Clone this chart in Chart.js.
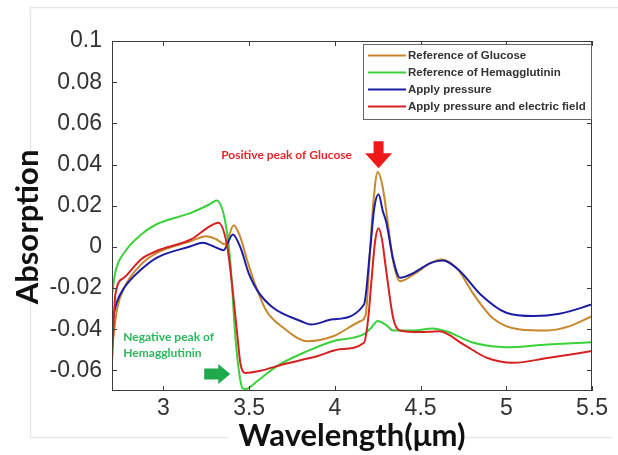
<!DOCTYPE html>
<html>
<head>
<meta charset="utf-8">
<script src="https://cdn.jsdelivr.net/npm/chart.js@4.4.1/dist/chart.umd.min.js"></script>
<style>
    body { margin: 0; background: #fff; }
    canvas { display: block; }
</style>
</head>
<body>
<canvas id="absorptionChart" width="618" height="455"></canvas>
<script>
// axis range and tick labels
const xMin = 2.7, xMax = 5.5;
const yMin = -0.07, yMax = 0.1;
const xTicks = [3, 3.5, 4, 4.5, 5, 5.5];
const yTicks = [-0.06, -0.04, -0.02, 0, 0.02, 0.04, 0.06, 0.08, 0.1];

const seriesNames = ['Reference of Glucose', 'Reference of Hemagglutinin', 'Apply pressure', 'Apply pressure and electric field'];

// Reference of Glucose
const glucoseX = [2.70, 2.73, 2.77, 2.87, 2.96, 3.16, 3.25, 3.31, 3.36, 3.41, 3.45, 3.49, 3.55, 3.60, 3.70, 3.84, 3.99, 4.15, 4.18, 4.205, 4.225, 4.25, 4.28, 4.31, 4.34, 4.38, 4.46, 4.56, 4.62, 4.71, 4.81, 4.92, 5.08, 5.24, 5.37, 5.50];
const glucoseY = [-0.049, -0.030, -0.020, -0.0085, -0.003, 0.0028, 0.0052, 0.0036, 0.0012, 0.0105, 0.0044, -0.007, -0.0215, -0.031, -0.0393, -0.0458, -0.0434, -0.036, -0.0328, -0.002, 0.022, 0.0364, 0.0286, 0.011, -0.007, -0.0167, -0.0134, -0.0078, -0.0061, -0.0102, -0.0231, -0.0345, -0.0401, -0.0406, -0.0385, -0.0336];

// Reference of Hemagglutinin
const hemaX = [2.70, 2.72, 2.77, 2.87, 2.96, 3.16, 3.27, 3.31, 3.36, 3.39, 3.42, 3.44, 3.46, 3.48, 3.55, 3.66, 3.84, 3.99, 4.17, 4.21, 4.25, 4.30, 4.34, 4.46, 4.57, 4.65, 4.81, 5.00, 5.24, 5.50];
const hemaY = [-0.023, -0.012, -0.003, 0.006, 0.011, 0.0165, 0.0207, 0.0225, 0.0125, -0.007, -0.044, -0.060, -0.0685, -0.069, -0.065, -0.058, -0.0506, -0.0458, -0.0424, -0.0395, -0.036, -0.038, -0.0406, -0.0406, -0.0396, -0.041, -0.0466, -0.0487, -0.0474, -0.0463];

// Apply pressure
const pressureX = [2.70, 2.73, 2.77, 2.87, 2.96, 3.16, 3.23, 3.29, 3.35, 3.405, 3.45, 3.50, 3.55, 3.64, 3.80, 3.86, 3.99, 4.17, 4.205, 4.23, 4.255, 4.28, 4.30, 4.34, 4.38, 4.46, 4.56, 4.63, 4.73, 4.85, 5.00, 5.16, 5.31, 5.50];
const pressureY = [-0.036, -0.0264, -0.020, -0.011, -0.0053, 0.0003, 0.002, 0.0003, -0.0016, 0.006, -0.0005, -0.0134, -0.0215, -0.0296, -0.036, -0.0377, -0.0352, -0.028, -0.002, 0.019, 0.0256, 0.0173, 0.012, -0.006, -0.015, -0.0126, -0.0078, -0.0066, -0.0118, -0.0231, -0.032, -0.0336, -0.0325, -0.028];

// Apply pressure and electric field
const fieldX = [2.70, 2.72, 2.77, 2.87, 2.96, 3.16, 3.27, 3.32, 3.37, 3.40, 3.43, 3.45, 3.48, 3.56, 3.70, 3.90, 4.03, 4.17, 4.195, 4.215, 4.235, 4.255, 4.275, 4.30, 4.34, 4.38, 4.50, 4.61, 4.75, 4.89, 5.04, 5.24, 5.50];
const fieldY = [-0.0555, -0.023, -0.015, -0.006, -0.002, 0.0036, 0.010, 0.0117, 0.0013, -0.018, -0.042, -0.057, -0.0612, -0.0603, -0.057, -0.053, -0.0497, -0.0466, -0.0345, -0.015, 0.0028, 0.009, 0.0035, -0.0118, -0.0345, -0.0406, -0.0414, -0.041, -0.0474, -0.054, -0.0563, -0.054, -0.0506];

const toPoints = (xs, ys) => xs.map((x, i) => ({ x: x, y: ys[i] }));

const tickFont = { family: "'Liberation Sans', Arial, sans-serif", size: 23 };
const titleFont = { family: "Lato, 'Open Sans', sans-serif", size: 31, weight: 'bold' };

// box, inward ticks, y title, legend and the two text notes
const decorations = {
    id: 'decorations',
    beforeDraw(chart) {
        const ctx = chart.ctx;
        ctx.save();
        ctx.fillStyle = '#fff';
        ctx.fillRect(0, 0, chart.width, chart.height);
        // faint frame of the original figure
        ctx.strokeStyle = '#e8e8e8';
        ctx.lineWidth = 1.5;
        ctx.beginPath();
        ctx.moveTo(618, 7.5);
        ctx.lineTo(30.5, 7.5);
        ctx.lineTo(30.5, 437.5);
        ctx.lineTo(228, 437.5);
        ctx.moveTo(462, 437.5);
        ctx.lineTo(612, 437.5);
        ctx.stroke();
        ctx.restore();
    },
    afterDraw(chart) {
        const ctx = chart.ctx;
        const a = chart.chartArea;
        const xs = chart.scales.x, ys = chart.scales.y;
        ctx.save();

        ctx.strokeStyle = '#3c3c3c';
        ctx.lineWidth = 1;
        ctx.strokeRect(a.left + 0.5, a.top + 0.5, a.right - a.left - 1, a.bottom - a.top - 1);
        ctx.beginPath();
        xTicks.forEach(v => {
            const px = Math.round(xs.getPixelForValue(v)) + 0.5;
            ctx.moveTo(px, a.bottom); ctx.lineTo(px, a.bottom - 5);
            ctx.moveTo(px, a.top); ctx.lineTo(px, a.top + 5);
        });
        yTicks.forEach(v => {
            const py = Math.round(ys.getPixelForValue(v)) + 0.5;
            ctx.moveTo(a.left, py); ctx.lineTo(a.left + 5, py);
            ctx.moveTo(a.right, py); ctx.lineTo(a.right - 5, py);
        });
        ctx.stroke();

        // y axis title, sits a little below the plot centre in the original
        ctx.save();
        ctx.translate(28, (a.top + a.bottom) / 2 + 11);
        ctx.rotate(-Math.PI / 2);
        ctx.font = "bold 31px Lato, 'Open Sans', sans-serif";
        ctx.fillStyle = '#111';
        ctx.textAlign = 'center';
        ctx.textBaseline = 'middle';
        ctx.fillText('Absorption', 0, 0);
        ctx.restore();

        // legend box, top right inside the plot
        const lw = 228, lh = 75;
        const lx = a.right - 1 - lw, ly = a.top + 3;
        ctx.fillStyle = '#fff';
        ctx.fillRect(lx, ly, lw, lh);
        ctx.strokeStyle = '#666';
        ctx.strokeRect(lx + 0.5, ly + 0.5, lw, lh);
        ctx.font = "bold 11.5px 'Liberation Sans', Arial, sans-serif";
        ctx.textBaseline = 'middle';
        chart.data.datasets.forEach((ds, i) => {
            const rowY = ly + 11.5 + i * 17;
            ctx.strokeStyle = ds.borderColor;
            ctx.lineWidth = 2;
            ctx.beginPath();
            ctx.moveTo(lx + 5, rowY);
            ctx.lineTo(lx + 43, rowY);
            ctx.stroke();
            ctx.fillStyle = '#333';
            ctx.fillText(ds.label, lx + 45, rowY + 0.5);
        });

        // notes
        ctx.font = "bold 12px Lato, 'Open Sans', sans-serif";
        ctx.fillStyle = '#e8262b';
        ctx.textAlign = 'right';
        ctx.fillText('Positive peak of Glucose', xs.getPixelForValue(4.1), ys.getPixelForValue(0.0445));
        ctx.fillStyle = '#2fb65c';
        ctx.textAlign = 'left';
        ctx.fillText('Negative peak of', xs.getPixelForValue(2.766), ys.getPixelForValue(-0.0438));
        ctx.fillText('Hemagglutinin', xs.getPixelForValue(2.766), ys.getPixelForValue(-0.0516));

        // red arrow pointing down at the glucose peak
        const ax = xs.getPixelForValue(4.255);
        const aTop = ys.getPixelForValue(0.0513), aTip = ys.getPixelForValue(0.0382);
        ctx.fillStyle = '#f01818';
        ctx.beginPath();
        ctx.moveTo(ax - 5, aTop);
        ctx.lineTo(ax + 5, aTop);
        ctx.lineTo(ax + 5, aTop + 12);
        ctx.lineTo(ax + 13.5, aTop + 12);
        ctx.lineTo(ax, aTip);
        ctx.lineTo(ax - 13.5, aTop + 12);
        ctx.lineTo(ax - 5, aTop + 12);
        ctx.closePath();
        ctx.fill();

        // green arrow pointing right at the hemagglutinin dip
        const gx0 = xs.getPixelForValue(3.238), gx1 = xs.getPixelForValue(3.39);
        const gy = ys.getPixelForValue(-0.0618);
        ctx.fillStyle = '#1fa84c';
        ctx.beginPath();
        ctx.moveTo(gx0, gy - 5.5);
        ctx.lineTo(gx1 - 12, gy - 5.5);
        ctx.lineTo(gx1 - 12, gy - 10);
        ctx.lineTo(gx1, gy);
        ctx.lineTo(gx1 - 12, gy + 10);
        ctx.lineTo(gx1 - 12, gy + 5.5);
        ctx.lineTo(gx0, gy + 5.5);
        ctx.closePath();
        ctx.fill();

        ctx.restore();
    }
};

const chart = new Chart(document.getElementById('absorptionChart'), {
    type: 'line',
    data: {
        datasets: [
            {
                label: seriesNames[0],
                data: toPoints(glucoseX, glucoseY),
                borderColor: '#c8872d',
                order: 4
            },
            {
                label: seriesNames[1],
                data: toPoints(hemaX, hemaY),
                borderColor: '#3ad13a',
                order: 3
            },
            {
                label: seriesNames[2],
                data: toPoints(pressureX, pressureY),
                borderColor: '#1d1da3',
                order: 2
            },
            {
                label: seriesNames[3],
                data: toPoints(fieldX, fieldY),
                borderColor: '#d42222',
                order: 1
            }
        ]
    },
    options: {
        responsive: false,
        animation: false,
        parsing: false,
        datasets: {
            line: {
                borderWidth: 2,
                pointRadius: 0,
                fill: false,
                cubicInterpolationMode: 'monotone'
            }
        },
        layout: {
            padding: { left: 0, right: 26, top: 41, bottom: 0 }
        },
        plugins: {
            legend: { display: false },
            tooltip: { enabled: false }
        },
        scales: {
            x: {
                type: 'linear',
                min: xMin,
                max: xMax,
                afterBuildTicks: scale => { scale.ticks = xTicks.map(v => ({ value: v })); },
                afterFit: scale => { scale.height = 64; },
                grid: { display: false, drawTicks: false },
                border: { display: false },
                ticks: {
                    font: tickFont,
                    color: '#333',
                    padding: 4,
                    maxRotation: 0,
                    autoSkip: false,
                    callback: v => String(v)
                },
                title: {
                    display: true,
                    text: 'Wavelength(μm)',
                    font: titleFont,
                    color: '#111',
                    padding: { top: 0, bottom: 0 }
                }
            },
            y: {
                min: yMin,
                max: yMax,
                afterBuildTicks: scale => { scale.ticks = yTicks.map(v => ({ value: v })); },
                afterFit: scale => { scale.width = 112; },
                grid: { display: false, drawTicks: false },
                border: { display: false },
                ticks: {
                    font: tickFont,
                    color: '#333',
                    padding: 10,
                    autoSkip: false,
                    callback: v => String(Number(v.toFixed(2)))
                }
            }
        }
    },
    plugins: [decorations]
});
</script>
</body>
</html>
